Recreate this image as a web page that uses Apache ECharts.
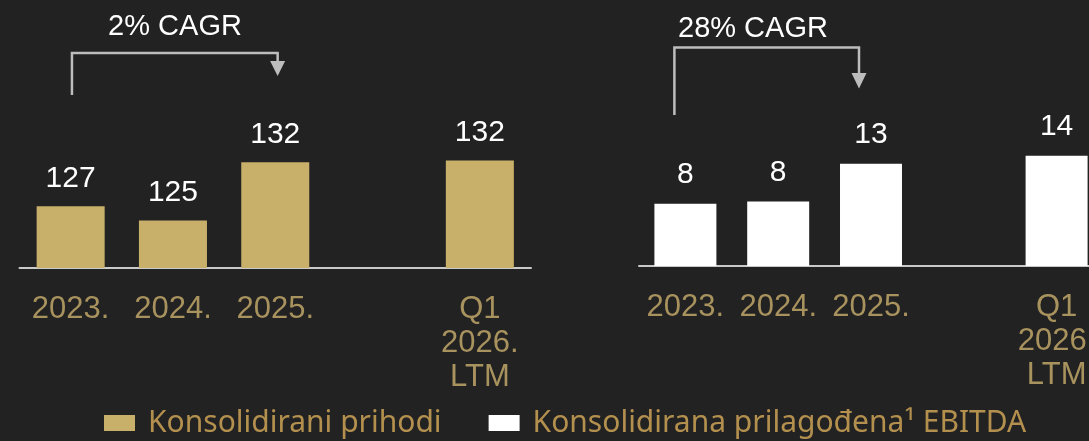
<!DOCTYPE html>
<html>
<head>
  <meta charset="utf-8">
  <script src="https://cdn.jsdelivr.net/npm/echarts@6/dist/echarts.min.js"></script>
</head>
<body style="margin: 0; background: #222222">
  <div id="container" style="width: 1089px; height: 441px;"></div>
  <script>
    // podaci
    const categories = ['2023.', '2024.', '2025.', '', 'Q1\n2026.\nLTM'];
    const revenue = [127.0, 125.4, 132.0, null, 132.2];
    const ebitda = [7.9, 8.2, 13.0, null, 14.0];
    const seriesNames = ['Konsolidirani prihodi', 'Konsolidirana prilagođena¹ EBITDA'];
    const cagrLabels = ['2% CAGR', '28% CAGR'];

    const GOLD = '#c8af6a';
    const LABEL_GOLD = '#a8925e';
    const LINE = '#bdbdbd';

    var dom = document.getElementById('container');
    var myChart = echarts.init(dom, null, { renderer: 'canvas' });

    function xAxisOf(gridIndex) {
      return {
        type: 'category',
        gridIndex: gridIndex,
        data: categories,
        axisTick: { show: false },
        axisLine: { lineStyle: { color: '#c9c9c9', width: 2 } },
        axisLabel: {
          color: LABEL_GOLD,
          fontFamily: 'Liberation Sans',
          fontSize: 31,
          lineHeight: 34,
          margin: 24,
          interval: 0
        }
      };
    }

    function barLabel(distance) {
      return {
        show: true,
        position: 'top',
        distance: distance,
        color: '#ffffff',
        fontFamily: 'Liberation Sans',
        fontSize: 30,
        formatter: p => Math.round(p.value)
      };
    }

    var option = {
      backgroundColor: '#222222',
      animation: false,
      grid: [
        { left: 19.5, width: 511.5, top: 91.8, bottom: 173, outerBoundsMode: 'none' },
        { left: 639, width: 464, top: 108.6, bottom: 175, outerBoundsMode: 'none' }
      ],
      xAxis: [xAxisOf(0), xAxisOf(1)],
      yAxis: [
        { type: 'value', gridIndex: 0, min: 120, max: 140, show: false, splitLine: { show: false } },
        { type: 'value', gridIndex: 1, min: 0, max: 20, show: false, splitLine: { show: false } }
      ],
      legend: {
        left: 104,
        top: 408,
        padding: 0,
        itemWidth: 31,
        itemHeight: 16,
        itemGap: 47,
        icon: 'rect',
        textStyle: {
          color: '#b4904e',
          fontFamily: 'Noto Sans',
          fontSize: 30,
          padding: [0, 0, 0, 8]
        },
        data: seriesNames
      },
      series: [
        {
          name: seriesNames[0],
          type: 'bar',
          xAxisIndex: 0,
          yAxisIndex: 0,
          barWidth: '66.5%',
          itemStyle: { color: GOLD },
          label: barLabel(13),
          data: revenue
        },
        {
          name: seriesNames[1],
          type: 'bar',
          xAxisIndex: 1,
          yAxisIndex: 1,
          barWidth: '66.8%',
          itemStyle: { color: '#ffffff' },
          label: barLabel(14),
          data: ebitda
        }
      ]
    };
    myChart.setOption(option);

    // CAGR strelice, vezane uz os
    function bracket(axisIndex, offStart, offEnd, top, legBottom, arrowBase, arrowTip) {
      const x0 = myChart.convertToPixel({ xAxisIndex: axisIndex }, 0) + offStart;
      const x1 = myChart.convertToPixel({ xAxisIndex: axisIndex }, 2) + offEnd;
      return [
        {
          type: 'polyline',
          shape: { points: [[x0, legBottom], [x0, top], [x1, top], [x1, arrowBase]] },
          style: { stroke: LINE, lineWidth: 2.5, fill: null }
        },
        {
          type: 'polygon',
          shape: { points: [[x1 - 7.5, arrowBase], [x1 + 7.5, arrowBase], [x1, arrowTip]] },
          style: { fill: LINE }
        }
      ];
    }

    const textStyle = { fill: '#ffffff', fontFamily: 'Liberation Sans', fontSize: 29 };
    myChart.setOption({
      graphic: [
        ...bracket(0, 1.3, 2.4, 53, 95, 61, 76),
        ...bracket(1, -11, -12, 47.5, 115, 73, 88.5),
        {
          type: 'text',
          x: 175, y: 27,
          style: Object.assign({ text: cagrLabels[0], align: 'center', verticalAlign: 'middle' }, textStyle)
        },
        {
          type: 'text',
          x: 678, y: 29,
          style: Object.assign({ text: cagrLabels[1], align: 'left', verticalAlign: 'middle' }, textStyle)
        }
      ]
    });
  </script>
</body>
</html>
